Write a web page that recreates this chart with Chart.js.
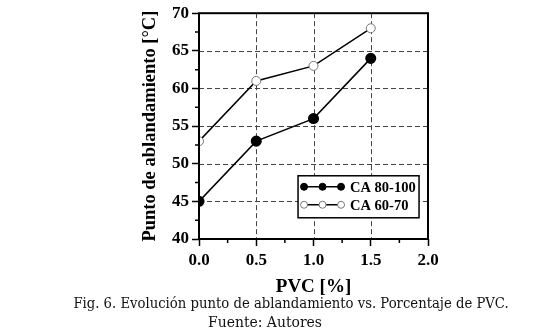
<!DOCTYPE html>
<html>
<head>
<meta charset="utf-8">
<script src="https://cdn.jsdelivr.net/npm/chart.js@4.4.1/dist/chart.umd.min.js"></script>
<style>
    body { margin: 0; background: #fff; }
    #wrap { position: relative; width: 550px; height: 333px; }
    #myChart { position: absolute; left: 0; top: 0; }
    .caption { position: absolute; width: 600px; text-align: center; font-family: "DejaVu Serif Condensed", "DejaVu Serif", serif; font-stretch: condensed; color: #111; white-space: nowrap; }
</style>
</head>
<body>
<div id="wrap">
    <canvas id="myChart" width="550" height="305"></canvas>
    <div class="caption" style="left: -9px; top: 294px; font-size: 14.7px;">Fig. 6. Evolución punto de ablandamiento vs. Porcentaje de PVC.</div>
    <div class="caption" style="left: -35px; top: 313px; font-size: 15.5px;">Fuente: Autores</div>
</div>
<script>
const pvc = [0.0, 0.5, 1.0, 1.5];
const ca80100 = [45, 53, 56, 64];
const ca6070 = [53, 61, 63, 68];
const seriesNames = ['CA 80-100', 'CA 60-70'];
const xTitle = 'PVC [%]';
const yTitle = 'Punto de ablandamiento [°C]';

const tickFont = { family: 'Liberation Serif', size: 17, weight: 'bold' };

// dashed grid, frame, minor ticks and the legend box
const extras = {
    id: 'extras',
    beforeDatasetsDraw(chart) {
        const ctx = chart.ctx;
        const a = chart.chartArea;
        ctx.save();
        ctx.strokeStyle = '#444';
        ctx.lineWidth = 1;
        ctx.setLineDash([5, 3]);
        ctx.beginPath();
        chart.scales.x.ticks.forEach((t) => {
            const px = Math.round(chart.scales.x.getPixelForValue(t.value)) + 0.5;
            ctx.moveTo(px, a.top);
            ctx.lineTo(px, a.bottom);
        });
        chart.scales.y.ticks.forEach((t) => {
            const py = Math.round(chart.scales.y.getPixelForValue(t.value)) + 0.5;
            ctx.moveTo(a.left, py);
            ctx.lineTo(a.right, py);
        });
        ctx.stroke();
        ctx.restore();
    },
    afterDraw(chart) {
        const ctx = chart.ctx;
        const a = chart.chartArea;
        const xs = chart.scales.x;
        const ys = chart.scales.y;
        ctx.save();
        ctx.strokeStyle = '#000';
        ctx.lineWidth = 2;
        ctx.strokeRect(a.left, a.top, a.right - a.left, a.bottom - a.top);

        ctx.lineWidth = 1.5;
        ctx.beginPath();
        for (let v = 0.25; v < 2; v += 0.5) {
            const px = xs.getPixelForValue(v);
            ctx.moveTo(px, a.bottom);
            ctx.lineTo(px, a.bottom + 4);
        }
        for (let v = 42.5; v < 70; v += 5) {
            const py = ys.getPixelForValue(v);
            ctx.moveTo(a.left, py);
            ctx.lineTo(a.left - 4, py);
        }
        ctx.stroke();

        // legend
        const lx = xs.getPixelForValue(0.865), ly = ys.getPixelForValue(48.4);
        const lw = 121, lh = 42;
        ctx.fillStyle = '#fff';
        ctx.fillRect(lx, ly, lw, lh);
        ctx.lineWidth = 1.5;
        ctx.strokeRect(lx, ly, lw, lh);
        chart.data.datasets.forEach((ds, i) => {
            const cy = ly + 11 + i * 18;
            ctx.strokeStyle = '#000';
            ctx.lineWidth = 1.5;
            ctx.beginPath();
            ctx.moveTo(lx + 6, cy);
            ctx.lineTo(lx + 43, cy);
            ctx.stroke();
            for (let k = 0; k < 3; k++) {
                ctx.beginPath();
                ctx.arc(lx + 6 + k * 18.5, cy, 3.5, 0, Math.PI * 2);
                ctx.fillStyle = ds.pointBackgroundColor;
                ctx.fill();
                ctx.lineWidth = 1;
                ctx.strokeStyle = ds.pointBorderColor;
                ctx.stroke();
            }
            ctx.fillStyle = '#000';
            ctx.font = 'bold 14.5px "Liberation Serif"';
            ctx.textBaseline = 'middle';
            ctx.fillText(ds.label, lx + 52, cy + 1);
        });
        ctx.restore();
    }
};

const ctx = document.getElementById('myChart').getContext('2d');
new Chart(ctx, {
    type: 'line',
    data: {
        datasets: [{
            label: seriesNames[0],
            data: pvc.map((x, i) => ({ x: x, y: ca80100[i] })),
            borderColor: '#000',
            borderWidth: 1.5,
            pointRadius: 4.8,
            pointBackgroundColor: '#000',
            pointBorderColor: '#000',
            tension: 0
        }, {
            label: seriesNames[1],
            data: pvc.map((x, i) => ({ x: x, y: ca6070[i] })),
            borderColor: '#000',
            borderWidth: 1.5,
            pointRadius: 4.5,
            pointBorderWidth: 1,
            pointBackgroundColor: '#fff',
            pointBorderColor: '#777',
            tension: 0
        }]
    },
    options: {
        responsive: false,
        animation: false,
        layout: { padding: { left: 139, right: 122, top: 10, bottom: 7 } },
        plugins: { legend: { display: false }, tooltip: { enabled: false } },
        scales: {
            x: {
                type: 'linear',
                min: 0, max: 2,
                afterFit: (s) => { s.height = 59; },
                ticks: { stepSize: 0.5, color: '#000', font: tickFont, padding: 4, callback: (v) => v.toFixed(1) },
                grid: { drawOnChartArea: false, tickColor: '#000', tickLength: 7, tickWidth: 1.5 },
                border: { display: false },
                title: { display: true, text: xTitle, color: '#000', font: { family: 'Liberation Serif', size: 19, weight: 'bold' }, padding: 0 }
            },
            y: {
                min: 40, max: 70,
                afterFit: (s) => { s.width = 60; },
                ticks: { stepSize: 5, color: '#000', font: tickFont, padding: 3 },
                grid: { drawOnChartArea: false, tickColor: '#000', tickLength: 7, tickWidth: 1.5 },
                border: { display: false },
                title: { display: true, text: yTitle, color: '#000', font: { family: 'Liberation Serif', size: 18.5, weight: 'bold' }, padding: 0 }
            }
        }
    },
    plugins: [extras]
});
</script>
</body>
</html>
